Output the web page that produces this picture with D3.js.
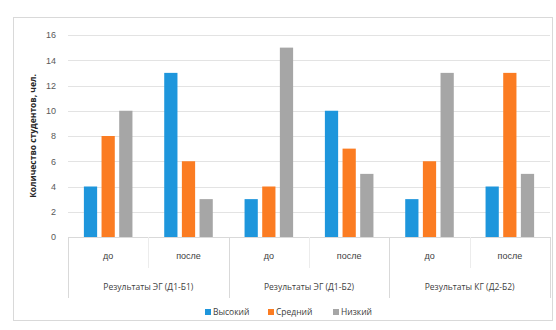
<!DOCTYPE html>
<html><head><meta charset="utf-8">
<script src="https://cdn.jsdelivr.net/npm/d3@7"></script>
<style>body{margin:0;background:#fff}svg{display:block;font-family:"Open Sans",Arial,sans-serif}</style>
</head><body><svg id="c" width="556" height="330"></svg>
<script>
const groups = ["Результаты ЭГ (Д1-Б1)", "Результаты ЭГ (Д1-Б2)", "Результаты КГ (Д2-Б2)"];
const stages = ["до", "после"];
const seriesNames = ["Высокий", "Средний", "Низкий"];
const high = [4, 13, 3, 10, 3, 4];
const mid = [8, 6, 4, 7, 6, 13];
const low = [10, 3, 15, 5, 13, 5];
const yTicks = [0, 2, 4, 6, 8, 10, 12, 14, 16];
const colors = ["#1e96dc", "#fb7c22", "#a6a6a6"];

const svg = d3.select("#c");
const L = 68, R = 550, T = 35, B = 237;
const cats = [];
groups.forEach((g, gi) => stages.forEach((s, si) => cats.push({g, s, gi, si, id: gi + "-" + si})));
const seriesVals = [high, mid, low];

svg.append("rect").attr("x", 13.5).attr("y", 17.5).attr("width", 539).attr("height", 303)
  .attr("fill", "#fff").attr("stroke", "#d9d9d9");

const x = d3.scaleBand().domain(cats.map(c => c.id)).range([L, R]).paddingInner(0).paddingOuter(0);
const y = d3.scaleLinear().domain([0, 16]).range([B, T]);
const xs = d3.scaleBand().domain(seriesNames).range([0, x.bandwidth()]).paddingInner(0.25).paddingOuter(0.9);

// gridlines
svg.append("g").selectAll("line").data(yTicks.filter(t => t > 0)).join("line")
  .attr("x1", L).attr("x2", R).attr("y1", d => Math.round(y(d)) + 0.5).attr("y2", d => Math.round(y(d)) + 0.5)
  .attr("stroke", "#e3e3e3");

// y axis
const ya = d3.axisLeft(y).tickValues(yTicks).tickSize(0).tickPadding(12);
const yg = svg.append("g").attr("transform", `translate(${L},0)`).call(ya);
yg.select(".domain").remove();
yg.selectAll("text").attr("fill", "#595959").style("font-size", "9px");

// bars
seriesNames.forEach((s, si) => {
  svg.append("g").selectAll("rect").data(cats).join("rect")
    .attr("x", (c) => x(c.id) + xs(s))
    .attr("width", xs.bandwidth())
    .attr("y", (c, i) => y(seriesVals[si][i]))
    .attr("height", (c, i) => B - y(seriesVals[si][i]))
    .attr("fill", colors[si]);
});

// baseline and category axis
svg.append("line").attr("x1", L).attr("x2", R).attr("y1", B + 0.5).attr("y2", B + 0.5).attr("stroke", "#d9d9d9");
const xa = d3.axisBottom(x).tickFormat(id => cats.find(c => c.id === id).s).tickSize(0).tickPadding(16);
const xg = svg.append("g").attr("transform", `translate(0,${B})`).call(xa);
xg.select(".domain").remove();
xg.selectAll("text").attr("fill", "#404040").style("font-size", "9px");

// group separators
const bounds = [0, 1, 2, 3].map(i => i === 3 ? R : x(i + "-0"));
svg.append("g").selectAll("line").data(bounds).join("line")
  .attr("x1", d => Math.round(d) + 0.5).attr("x2", d => Math.round(d) + 0.5)
  .attr("y1", B).attr("y2", 298).attr("stroke", "#d9d9d9");
// inner tick
svg.append("g").selectAll("line").data([0, 1, 2]).join("line")
  .attr("x1", i => Math.round(x(i + "-1")) + 0.5).attr("x2", i => Math.round(x(i + "-1")) + 0.5)
  .attr("y1", B).attr("y2", 268).attr("stroke", "#ececec");

svg.append("g").selectAll("text").data(groups).join("text")
  .attr("x", (g, i) => (bounds[i] + bounds[i + 1]) / 2).attr("y", 290)
  .attr("text-anchor", "middle").attr("fill", "#404040").style("font-size", "8.5px").text(d => d);

// y title
svg.append("text").attr("transform", "translate(36,136) rotate(-90)").attr("text-anchor", "middle")
  .attr("fill", "#262626").style("font-size", "8.5px").style("font-weight", "bold").text("Количество студентов, чел.");

// legend
const legX = [205, 268, 333];
const lg = svg.append("g").selectAll("g").data(seriesNames).join("g")
  .attr("transform", (d, i) => `translate(${legX[i]},315)`);
lg.append("rect").attr("x", 0).attr("y", -6).attr("width", 6).attr("height", 6).attr("fill", (d, i) => colors[i]);
lg.append("text").attr("x", 8).attr("y", 0).attr("fill", "#404040").style("font-size", "8.5px").text(d => d);
</script></body></html>
